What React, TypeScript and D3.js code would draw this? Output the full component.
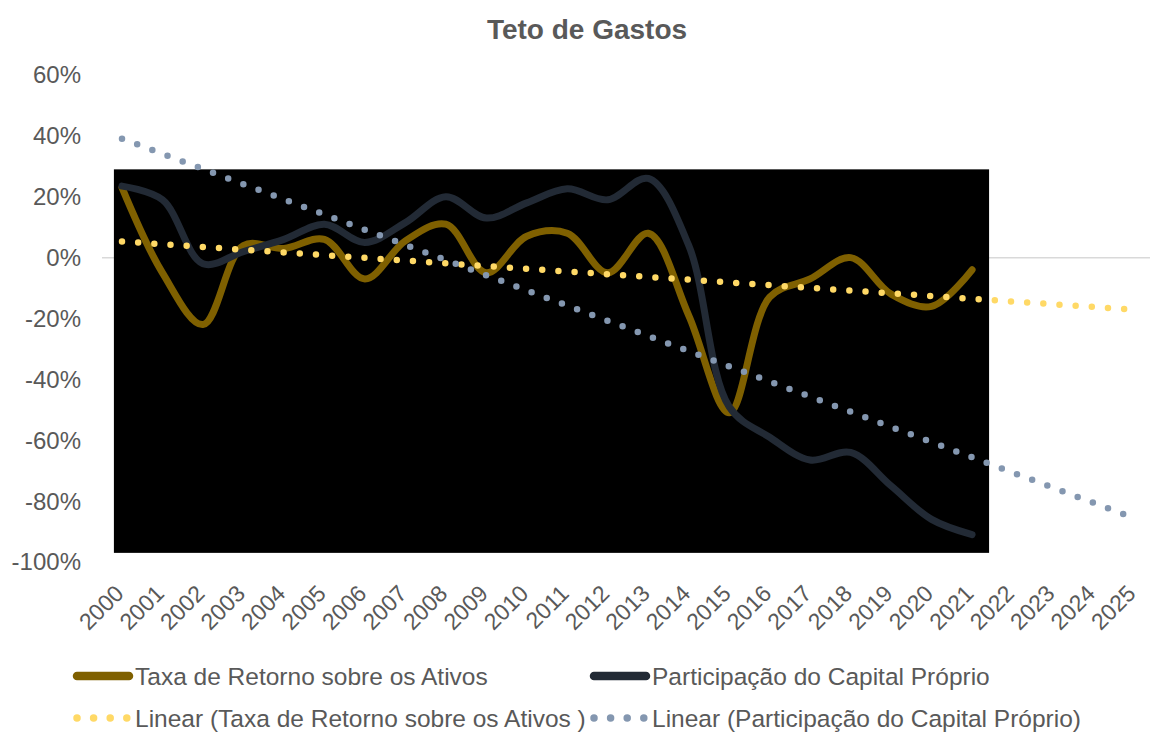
import React from 'react';
import * as d3 from 'd3';

// categories (x axis)
const years = [
  '2000', '2001', '2002', '2003', '2004', '2005', '2006', '2007', '2008', '2009',
  '2010', '2011', '2012', '2013', '2014', '2015', '2016', '2017', '2018', '2019',
  '2020', '2021', '2022', '2023', '2024', '2025',
];

// series values in % (2000 - 2021)
const taxaRetorno = [23, -5, -22, 4, 3, 6, -7, 5.5, 11, -5, 7, 8, -5, 8, -19, -51, -13, -7, 0, -12, -16, -4];
const participacao = [23.5, 19, -2, 2, 6, 11, 5, 11.5, 20, 13, 18, 22.6, 19, 26, 4, -49, -59, -66.5, -64, -75, -86, -91];

const yTicks = [60, 40, 20, 0, -20, -40, -60, -80, -100];

// black picture behind the plot, in data units
const bgIndex = [-0.2, 21.42];
const bgValue = [29, -97];

const W = 1150;
const H = 733;
const FONT = '"Liberation Sans", Arial, sans-serif';
const GREY = '#595959';

// least squares fit, like Excel's linear trendline
const linearFit = (vals: number[]) => {
  const mx = d3.mean(vals, (_, i) => i) as number;
  const my = d3.mean(vals) as number;
  let sxy = 0, sxx = 0;
  vals.forEach((v, i) => { sxy += (i - mx) * (v - my); sxx += (i - mx) * (i - mx); });
  const slope = sxy / sxx;
  const icpt = my - slope * mx;
  return (i: number) => icpt + slope * i;
};

export default function App() {
  const x = d3.scaleLinear().domain([0, years.length - 1]).range([122, 1134]);
  const y = d3.scaleLinear().domain([-100, 60]).range([562, 75]);

  const line = d3.line<number>()
    .x((_, i) => x(i))
    .y(d => y(d))
    .curve(d3.curveCatmullRom.alpha(0.5));

  const trendPath = (vals: number[]) => {
    const f = linearFit(vals);
    const last = years.length - 1;
    return d3.line()([[x(0), y(f(0))], [x(last), y(f(last))]]) as string;
  };

  const series = [
    { name: 'Taxa de Retorno sobre os Ativos', vals: taxaRetorno, color: '#7F6000' },
    { name: 'Participação do Capital Próprio', vals: participacao, color: '#222A35' },
  ];
  const trends = [
    { name: 'Linear (Taxa de Retorno sobre os Ativos )', vals: taxaRetorno, color: '#FFD966' },
    { name: 'Linear (Participação do Capital Próprio)', vals: participacao, color: '#8497B0' },
  ];

  const legendX = [73, 590];

  return (
    <svg width={W} height={H} style={{ position: 'absolute', left: 0, top: 0, background: '#fff' }} fontFamily={FONT}>
      <text x={587} y={39} textAnchor="middle" fontSize={28} fontWeight="bold" fill={GREY}>Teto de Gastos</text>

      {/* y axis labels */}
      {yTicks.map(t => (
        <text key={t} x={81} y={y(t)} dy="0.35em" textAnchor="end" fontSize={24} fill={GREY}>{t}%</text>
      ))}

      {/* zero line */}
      <line x1={102} x2={W} y1={y(0)} y2={y(0)} stroke="#D9D9D9" strokeWidth={1.5} />

      <rect x={x(bgIndex[0])} y={y(bgValue[0])} width={x(bgIndex[1]) - x(bgIndex[0])}
        height={y(bgValue[1]) - y(bgValue[0])} fill="#000" />

      {/* x labels */}
      {years.map((yr, i) => (
        <text key={yr} transform={`translate(${x(i) + 3},${595}) rotate(-45)`} textAnchor="end"
          fontSize={23} fill={GREY}>{yr}</text>
      ))}

      {series.map(s => (
        <path key={s.name} d={line(s.vals) as string} fill="none" stroke={s.color} strokeWidth={7}
          strokeLinecap="round" strokeLinejoin="round" />
      ))}

      {trends.map(s => (
        <path key={s.name} d={trendPath(s.vals)} fill="none" stroke={s.color} strokeWidth={6.5}
          strokeLinecap="round" strokeDasharray="0 16.2" />
      ))}

      {/* legend */}
      {series.map((s, i) => (
        <g key={s.name} transform={`translate(${legendX[i]},676)`}>
          <line x1={4} x2={56} y1={0} y2={0} stroke={s.color} strokeWidth={8.5} strokeLinecap="round" />
          <text x={62} y={0} dy="0.35em" fontSize={24.5} fill={GREY}>{s.name}</text>
        </g>
      ))}
      {trends.map((s, i) => (
        <g key={s.name} transform={`translate(${legendX[i]},718)`}>
          <line x1={4} x2={54} y1={0} y2={0} stroke={s.color} strokeWidth={7.5} strokeLinecap="round"
            strokeDasharray="0 16.6" />
          <text x={62} y={0} dy="0.35em" fontSize={24.5} fill={GREY}>{s.name}</text>
        </g>
      ))}
    </svg>
  );
}
